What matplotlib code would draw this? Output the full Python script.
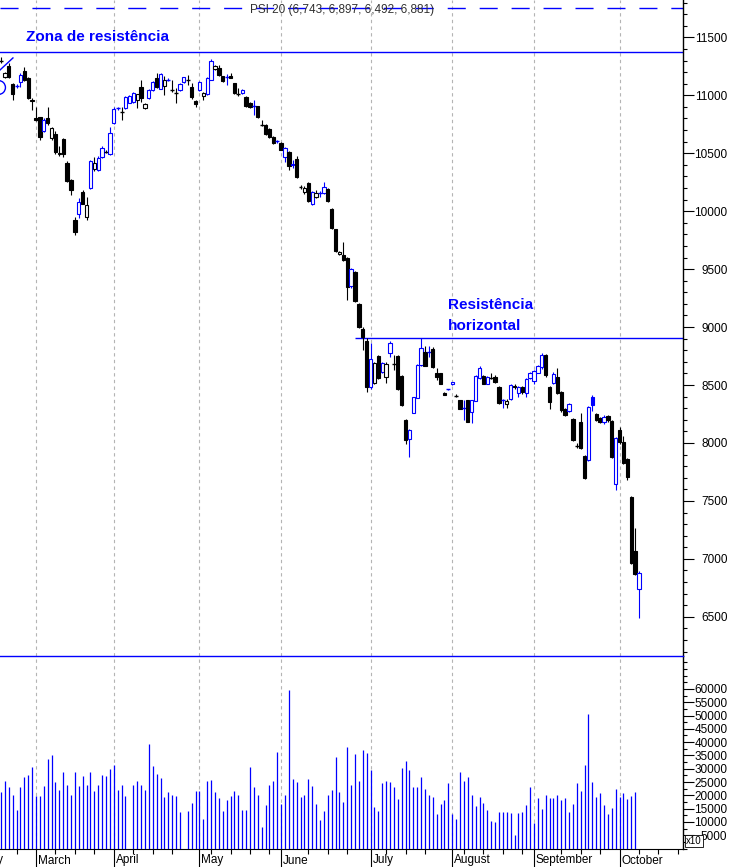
import matplotlib
matplotlib.use("Agg")
import matplotlib.pyplot as plt
from matplotlib.patches import Rectangle
from matplotlib.ticker import MultipleLocator
import numpy as np

plt.rcParams['font.family'] = ['Liberation Sans', 'DejaVu Sans']

# daily PSI 20 values (mid Feb - Oct 3)
opens = [11300, 11157, 11252, 11097, 11078, 11114, 11210, 11150, 10950,
         10800, 10810, 10690, 10800, 10630, 10670, 10495, 10620, 10415, 10270, 9925,
         9975, 10168, 9950, 10200, 10365, 10355, 10470, 10515, 10490,
         10760, 10885, 10860, 10890, 10935, 10940, 10960, 11070, 10890, 10975,
         11045, 11150, 11055, 11080, 11128, 11050, 11025, 11045, 11115, 11135,
         11070, 10950,
         11045, 10995, 11010, 11135, 11225, 11235, 11165, 11155, 11165, 11105,
         11020, 11020, 10985, 10935, 10905, 10905, 10745, 10745, 10710, 10640,
         10600,
         10590, 10470, 10510, 10410, 10450, 10210, 10165, 10240, 10060, 10125,
         10155, 10160, 10190, 10020, 9845, 9630, 9620, 9595, 9355, 9475, 9200,
         8985, 8880,
         8480, 8515, 8750, 8610, 8570, 8775, 8690, 8750, 8580, 8200, 8030,
         8260, 8390, 8675, 8785, 8780, 8810, 8605, 8600, 8430, 8462, 8505, 8410,
         8370, 8298, 8370, 8270, 8365, 8560, 8580, 8510, 8565, 8570,
         8485, 8365, 8335, 8380, 8495, 8430, 8480, 8430, 8560,
         8535, 8605, 8655, 8760, 8485, 8520, 8570, 8440, 8295, 8275, 8205,
         7975, 8180, 7890, 7855, 8400, 8250, 8215, 8180, 8230, 8190, 7645,
         8110, 8010, 7860, 7535, 7070, 6743]
highs = [11330, 11200, 11275, 11105, 11095, 11190, 11240, 11160, 10975,
         10900, 10815, 10800, 10900, 10730, 10690, 10560, 10630, 10430, 10275, 9950,
         10115, 10185, 10125, 10440, 10470, 10480, 10560, 10530, 10725,
         10895, 10900, 10900, 10990, 11000, 11030, 11015, 11130, 10930, 11050,
         11120, 11190, 11195, 11170, 11150, 11130, 11060, 11105, 11160, 11175,
         11110, 10955,
         11120, 11030, 11155, 11315, 11260, 11265, 11170, 11185, 11190, 11110,
         11060, 11050, 10990, 10940, 10960, 10910, 10785, 10750, 10715, 10645,
         10615,
         10600, 10550, 10515, 10440, 10475, 10230, 10215, 10255, 10170, 10180,
         10175, 10250, 10200, 10030, 9850, 9660, 9735, 9605, 9510, 9480, 9210,
         9000, 8910,
         8860, 8700, 8760, 8700, 8700, 8880, 8755, 8760, 8590, 8205, 8120,
         8400, 8680, 8905, 8840, 8840, 8825, 8645, 8605, 8440, 8470, 8530, 8420,
         8375, 8370, 8375, 8375, 8590, 8660, 8590, 8575, 8600, 8590,
         8490, 8380, 8380, 8510, 8510, 8490, 8490, 8560, 8615,
         8630, 8675, 8780, 8770, 8490, 8610, 8650, 8450, 8300, 8345, 8215,
         8000, 8260, 7900, 8320, 8415, 8260, 8225, 8240, 8240, 8200, 8050,
         8135, 8060, 7870, 7540, 7265, 6897]
lows = [11280, 11150, 11150, 10960, 11065, 11070, 11125, 10965, 10870,
        10778, 10615, 10680, 10745, 10615, 10490, 10480, 10470, 10250, 10140, 9795,
        9940, 10060, 9925, 10195, 10345, 10350, 10460, 10500, 10485,
        10750, 10870, 10790, 10885, 10930, 10935, 10890, 10940, 10880, 10970,
        11040, 11060, 11050, 11000, 11120, 11030, 10930, 11040, 11110, 11090,
        10970, 10900,
        11040, 10955, 11000, 11130, 11215, 11170, 11115, 11090, 11145, 11015,
        10990, 11015, 10900, 10890, 10830, 10800, 10735, 10660, 10630, 10580,
        10590,
        10525, 10420, 10355, 10375, 10290, 10190, 10150, 10080, 10050, 10115,
        10120, 10150, 10080, 9850, 9650, 9620, 9570, 9235, 9340, 9215, 8995,
        8800, 8440,
        8470, 8510, 8555, 8600, 8515, 8745, 8630, 8460, 8320, 7990, 7875,
        8255, 8385, 8665, 8660, 8745, 8650, 8545, 8505, 8410, 8455, 8500, 8395,
        8290, 8200, 8180, 8170, 8360, 8555, 8505, 8505, 8555, 8520,
        8335, 8300, 8300, 8370, 8470, 8400, 8420, 8400, 8555,
        8510, 8600, 8640, 8570, 8290, 8510, 8420, 8270, 8230, 8265, 8020,
        7960, 7945, 7690, 7845, 8280, 8190, 8170, 8160, 8185, 7870, 7590,
        7995, 7820, 7680, 6960, 6865, 6492]
closes = [11295, 11192, 11157, 11010, 11082, 11175, 11132, 10975, 10962,
          10785, 10640, 10785, 10760, 10720, 10510, 10505, 10490, 10260, 10180, 9820,
          10075, 10065, 10050, 10433, 10415, 10460, 10545, 10512, 10675,
          10880, 10890, 10855, 10985, 10995, 11020, 11010, 10975, 10925, 11045,
          11115, 11070, 11185, 11130, 11135, 11045, 11020, 11100, 11157, 11130,
          10985, 10925,
          11115, 11020, 11150, 11295, 11250, 11175, 11125, 11160, 11150, 11020,
          11015, 11045, 10905, 10900, 10910, 10810, 10740, 10665, 10640, 10590,
          10605,
          10530, 10545, 10390, 10395, 10295, 10205, 10200, 10085, 10165, 10155,
          10160, 10210, 10085, 9855, 9655, 9650, 9580, 9345, 9500, 9225, 9000,
          8915, 8480,
          8725, 8690, 8560, 8690, 8685, 8860, 8685, 8465, 8325, 8025, 8115,
          8395, 8675, 8820, 8665, 8785, 8655, 8570, 8510, 8415, 8466, 8525, 8405,
          8295, 8302, 8185, 8370, 8580, 8645, 8510, 8570, 8560, 8530,
          8345, 8370, 8365, 8500, 8480, 8485, 8440, 8550, 8605,
          8620, 8665, 8760, 8590, 8355, 8595, 8430, 8285, 8240, 8340, 8025,
          7970, 7955, 7700, 8310, 8330, 8200, 8180, 8225, 8195, 7880, 8045,
          8010, 7830, 7705, 6965, 6870, 6881]

# volume (x10); no volume yet for the last session
volumes = [21125, 25250, 23000, 20250, 14625, 23000, 26750, 27750, 30500,
           19625, 19625, 23375, 33750, 35000, 24875, 21875, 28625, 24000, 20250,
           28875, 23375, 27375, 23750, 28625, 21500, 23750, 27750, 27125, 30000,
           31500, 22125, 23750, 19625, 0, 23750, 25250, 23750, 22125, 39375,
           30875, 28125, 26500, 19250, 21125, 20250, 19875, 13625, 0, 14000,
           17125, 21500, 21750, 11250, 25250, 25875, 21125, 19000, 14250, 18375,
           19625, 21750, 20250, 14625, 14625, 30500, 23000, 20000, 8000, 16500,
           23750, 25250, 36125, 16875, 20250, 59625, 26250, 24875, 19250, 20250,
           26250, 23375, 16875, 10875, 14250, 20000, 22125, 34250, 21125, 17375,
           38000, 24000, 35625, 25250,
           36875, 35750, 29625, 15625, 14250, 24625, 25500, 25125, 23250, 18750,
           30375, 33000, 29625, 23250, 23250, 27000, 22500, 20250, 19500, 13125,
           16875, 18375, 24750, 13125, 11250, 28875, 25500, 27000, 20250, 16125,
           19500, 17250, 14625, 10500, 10125, 13875, 13875, 13875, 13500, 5250,
           13500, 13875, 16500, 23250, 9750, 19125, 15000, 20250, 19125, 19125,
           20250, 18375, 19125, 13875, 16875, 24750, 21750, 31500, 50625, 25125,
           19500, 21000, 16500, 13125, 15375, 22500, 19500, 21000, 18750, 19875,
           21375, 0]

months = ["February", "March", "April", "May", "June", "July", "August",
          "September", "October"]
month_starts = [-12, 9, 29, 51, 72, 95, 116, 137, 159]

price_ticks = list(range(6500, 12000, 500))
volume_ticks = list(range(5000, 65000, 5000))

resist_zone = 11373
resist_horizontal = 8906
resist_horizontal_from = 91
top_dashed = 11753
trend_x = [-0.26, 3.07]
trend_y = [11218, 11322]
circle_point = (-0.77, 11071)
title = "PSI 20 (6,743, 6,897, 6,492, 6,881)"

BLUE = "#0000ff"
GRID = "#b4b4b4"
W, H = 733, 867

fig = plt.figure(figsize=(W / 100, H / 100), dpi=100)
ax = fig.add_axes([0, 1 - 656 / H, 683 / W, 656 / H])
axv = fig.add_axes([0, 1 - 848.5 / H, 683 / W, (848.5 - 656) / H])

n = len(closes)
step = 638 / (n - 1)           # pixels per session
xlim = (-1 / step, 682 / step)

# candles: blue = close above previous close, hollow = close above open
body_w = 0.85
for i in range(n):
    o, h, l, c = opens[i], highs[i], lows[i], closes[i]
    prev = closes[i - 1] if i > 0 else c
    col = BLUE if c > prev else "black"
    ax.vlines(i, l, h, color=col, lw=0.8, zorder=3)
    if abs(c - o) < 10:
        ax.hlines(c, i - 0.5, i + 0.5, color=col, lw=1.0, zorder=4)
    else:
        face = col if c < o else "white"
        ax.add_patch(Rectangle((i - body_w / 2, min(o, c)), body_w, abs(c - o),
                               facecolor=face, edgecolor=col, lw=0.8, zorder=4))

# reference lines
ax.axhline(top_dashed, color=BLUE, lw=1, ls=(0, (13, 10)), zorder=2)
ax.axhline(resist_zone, color=BLUE, lw=1, zorder=2)
ax.hlines(resist_horizontal, resist_horizontal_from, xlim[1], color=BLUE, lw=1, zorder=2)
ax.plot(trend_x, trend_y, color=BLUE, lw=1, clip_on=False, zorder=2)
ax.plot(*circle_point, marker="o", ms=10, mfc="none", mec=BLUE, mew=1, clip_on=True)

# volume bars
axv.vlines(np.arange(n), 0, volumes, color=BLUE, lw=0.9, zorder=3)

for a in (ax, axv):
    for m in month_starts[1:]:
        a.axvline(m, color=GRID, lw=0.8, ls=(0, (3, 3)), zorder=1)
    a.set_xlim(*xlim)
    a.set_facecolor("white")
    a.spines["left"].set_visible(False)
    a.spines["top"].set_visible(False)
    a.spines["right"].set_linewidth(1)
    a.yaxis.tick_right()
    a.tick_params(axis="y", which="major", direction="out", length=8, width=0.8,
                  labelsize=8.5, pad=24)
    a.tick_params(axis="y", which="minor", direction="out", length=3, width=0.8)

ax.spines["bottom"].set_visible(False)
ax.set_xticks([])
ax.set_ylim(6162, 11822)
ax.set_yticks(price_ticks)
ax.yaxis.set_minor_locator(MultipleLocator(100))

axv.spines["top"].set_visible(True)
axv.spines["top"].set_color(BLUE)
axv.spines["top"].set_linewidth(1)
axv.set_ylim(0, 72400)
axv.set_yticks(volume_ticks)
axv.yaxis.set_minor_locator(MultipleLocator(2500))

for a in (ax, axv):
    for lab in a.get_yticklabels():
        lab.set_horizontalalignment("right")

# x axis: month separators and weekly ticks
weekly = [w for w in range(4, 176, 5) if min(abs(w - m) for m in month_starts) > 2]
axv.set_xticks(month_starts[1:])
axv.set_xticks(weekly, minor=True)
axv.set_xticklabels([])
axv.tick_params(axis="x", which="major", direction="out", length=14, width=0.8)
axv.tick_params(axis="x", which="minor", direction="out", length=3.5, width=0.8)

for name, m in zip(months, month_starts):
    axv.annotate(name, xy=(m, 0), xycoords=axv.get_xaxis_transform(),
                 xytext=(2, -12), textcoords="offset pixels", ha="left",
                 va="center", fontsize=8.5, annotation_clip=False)

fig.text(342 / W, 1 - 10 / H, title, ha="center", va="center", fontsize=8.5,
         color="#303030")
fig.text(26 / W, 1 - 37 / H, "Zona de resistência", ha="left", va="center",
         fontsize=11, fontweight="bold", color=BLUE)
fig.text(448 / W, 1 - 305 / H, "Resistência", ha="left", va="center",
         fontsize=11, fontweight="bold", color=BLUE)
fig.text(448 / W, 1 - 326 / H, "horizontal", ha="left", va="center",
         fontsize=11, fontweight="bold", color=BLUE)
fig.text(686 / W, 1 - 841 / H, "x10", ha="left", va="center", fontsize=7,
         bbox=dict(boxstyle="square,pad=0.15", fc="white", ec="black", lw=0.6))

fig.savefig("out.png", dpi=100)
